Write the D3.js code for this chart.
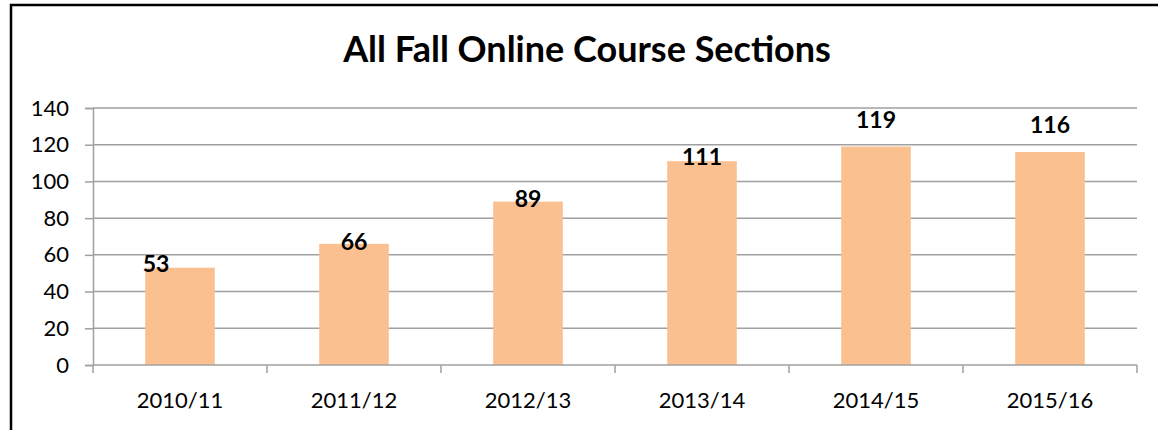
<!DOCTYPE html>
<html lang="en">
<head>
<meta charset="UTF-8">
<title>All Fall Online Course Sections</title>
<script src="https://cdn.jsdelivr.net/npm/d3@7"></script>
<style>
    body { margin: 0; background: #fff; }
    svg { display: block; font-family: Lato, "Open Sans", sans-serif; }
</style>
</head>
<body>
<div id="chart"></div>
<script>
    // data
    var years = ["2010/11", "2011/12", "2012/13", "2013/14", "2014/15", "2015/16"];
    var sections = [53, 66, 89, 111, 119, 116];
    var yTicks = [0, 20, 40, 60, 80, 100, 120, 140];
    // where each value label sits relative to its bar top / centre (px)
    var labelShift = [4, 6, 5, 4, -19, -19];
    var labelDx = [-24, 0, 0, 0, 0, 0];

    var width = 1158, height = 430;
    var margin = {top: 108, right: 21, bottom: 65, left: 93};

    var svg = d3.select("#chart").append("svg")
        .attr("width", width)
        .attr("height", height);

    // outer frame (cropped at right and bottom)
    svg.append("rect")
        .attr("x", 11).attr("y", 5)
        .attr("width", 1160).attr("height", 440)
        .attr("fill", "none")
        .attr("stroke", "#000")
        .attr("stroke-width", 2.5);

    svg.append("text")
        .attr("x", 587).attr("y", 62)
        .attr("text-anchor", "middle")
        .attr("font-size", 36)
        .attr("font-weight", "bold")
        .text("All Fall Online Course Sections");

    var x = d3.scaleBand()
        .domain(years)
        .range([margin.left, width - margin.right])
        .paddingInner(0.6)
        .paddingOuter(0.3);

    var y = d3.scaleLinear()
        .domain([0, 140])
        .range([height - margin.bottom, margin.top]);

    var grey = "#a0a0a0";

    // gridlines
    svg.append("g")
        .selectAll("line")
        .data(yTicks.slice(1))
        .enter().append("line")
        .attr("x1", margin.left).attr("x2", width - margin.right)
        .attr("y1", function(d){ return y(d); })
        .attr("y2", function(d){ return y(d); })
        .attr("stroke", grey)
        .attr("stroke-width", 1.5);

    // y axis
    var yAxis = svg.append("g")
        .attr("transform", "translate(" + margin.left + ",0)")
        .call(d3.axisLeft(y).tickValues(yTicks).tickSize(8).tickPadding(16));
    yAxis.select(".domain").attr("stroke", grey).attr("stroke-width", 1.5);
    yAxis.selectAll(".tick line").attr("stroke", grey).attr("stroke-width", 1.5);
    yAxis.selectAll("text")
        .attr("font-size", 22)
        .attr("fill", "#000")
        .attr("font-family", "Lato, 'Open Sans', sans-serif");

    // bars
    svg.append("g")
        .selectAll("rect")
        .data(sections)
        .enter().append("rect")
        .attr("x", function(d, i){ return x(years[i]); })
        .attr("width", x.bandwidth())
        .attr("y", function(d){ return y(d); })
        .attr("height", function(d){ return y(0) - y(d); })
        .attr("fill", "#fac090");

    // x axis: ticks at category boundaries
    var plotW = width - margin.left - margin.right;
    var bounds = d3.range(years.length + 1);
    var xg = svg.append("g");
    xg.append("line")
        .attr("x1", margin.left).attr("x2", width - margin.right)
        .attr("y1", y(0)).attr("y2", y(0))
        .attr("stroke", grey).attr("stroke-width", 1.5);
    xg.selectAll(".bt")
        .data(bounds)
        .enter().append("line")
        .attr("x1", function(i){ return margin.left + i * plotW / years.length; })
        .attr("x2", function(i){ return margin.left + i * plotW / years.length; })
        .attr("y1", y(0)).attr("y2", y(0) + 8)
        .attr("stroke", grey).attr("stroke-width", 1.5);
    xg.selectAll("text")
        .data(years)
        .enter().append("text")
        .attr("x", function(d){ return x(d) + x.bandwidth() / 2; })
        .attr("y", y(0) + 43)
        .attr("text-anchor", "middle")
        .attr("font-size", 22)
        .text(function(d){ return d; });

    // value labels
    svg.append("g")
        .selectAll("text")
        .data(sections)
        .enter().append("text")
        .attr("x", function(d, i){ return x(years[i]) + x.bandwidth() / 2 + labelDx[i]; })
        .attr("y", function(d, i){ return y(d) + labelShift[i]; })
        .attr("text-anchor", "middle")
        .attr("font-size", 23)
        .attr("font-weight", "bold")
        .text(function(d){ return d; });
</script>
</body>
</html>
